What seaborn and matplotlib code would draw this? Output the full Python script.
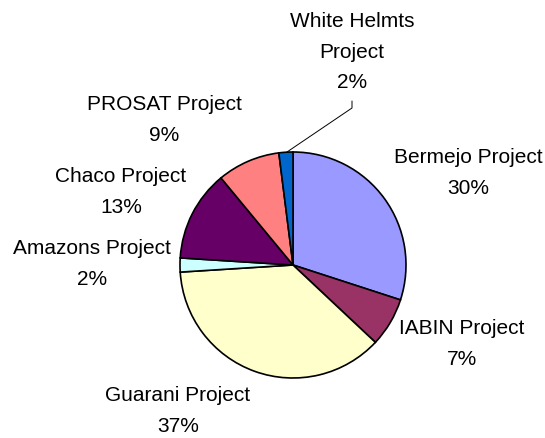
import matplotlib
matplotlib.use("Agg")
import matplotlib.pyplot as plt
import seaborn as sns

sns.set_style("white")
plt.rcParams['font.family'] = ['Liberation Sans', 'DejaVu Sans']

# data
projects = ['Bermejo Project', 'IABIN Project', 'Guarani Project', 'Amazons Project',
            'Chaco Project', 'PROSAT Project', 'White Helmts\nProject']
shares = [30, 7, 37, 2, 13, 9, 2]
slice_colors = ['#9999FF', '#993366', '#FFFFCC', '#CCFFFF', '#660066', '#FF8080', '#0066CC']

# layout (pixel coords, y from top)
W, H = 545, 438
pie_center = (293, 265)
pie_radius = 113
label_pos = [(468, 173), (462, 344), (178, 411), (92, 264),
             (121, 192), (164, 120), (352, 52)]


def fy(y):
    return H - y


palette = sns.color_palette(slice_colors)

fig = plt.figure(figsize=(W / 100, H / 100), dpi=100)
ax = fig.add_axes([0, 0, 1, 1])

ax.pie(shares, colors=palette, startangle=90, counterclock=False,
       center=(pie_center[0], fy(pie_center[1])), radius=pie_radius,
       wedgeprops=dict(edgecolor='black', linewidth=1.2), frame=True)
ax.set_xlim(0, W)
ax.set_ylim(0, H)
ax.set_aspect('equal')
ax.axis('off')

for name, val, (x, y) in zip(projects, shares, label_pos):
    ax.text(x, fy(y), f"{name}\n{val}%", ha='center', va='center',
            fontsize=15, linespacing=1.75, color='black')

# leader line for the small White Helmts slice
ax.plot([287, 352, 352], [fy(152), fy(108), fy(101)], color='black', linewidth=0.7)

fig.savefig("out.png", dpi=100, facecolor='white')
